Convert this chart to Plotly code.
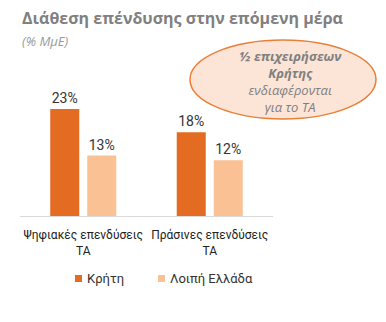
import plotly.graph_objects as go

categories = ["Ψηφιακές επενδύσεις<br>ΤΑ", "Πράσινες επενδύσεις<br>ΤΑ"]
crete = [23, 18]
rest_greece = [13, 12]
series_names = ["Κρήτη", "Λοιπή Ελλάδα"]
colors = ["#E36C22", "#F9C194"]
bubble_text = "<b><i>½ επιχειρήσεων<br>Κρήτης</i></b><br><i>ενδιαφέρονται<br>για το ΤΑ</i>"

W, H = 386, 322
ml, mr, mt, mb = 20, 113, 60, 106
FONT = "Open Sans, Noto Sans, sans-serif"
LFONT = "Roboto, Noto Sans, sans-serif"

fig = go.Figure()
for name, vals, col in zip(series_names, [crete, rest_greece], colors):
    fig.add_trace(go.Bar(
        x=categories, y=vals, name=name, marker_color=col, marker_line_width=0,
        text=[f"{v}%" for v in vals], textposition="outside", cliponaxis=False,
        textfont=dict(size=14, color="#333333", family=LFONT), showlegend=False,
    ))

pw, ph = W - ml - mr, H - mt - mb
def px(x):
    return (x - ml) / pw
def py(y):
    return (H - mb - y) / ph

# legend: small square key followed by the series name
for name, col, kx in zip(series_names, colors, [75, 158]):
    fig.add_shape(type="rect", xref="paper", yref="paper",
                  x0=px(kx), x1=px(kx + 7), y0=py(282), y1=py(275),
                  fillcolor=col, line_width=0)
    fig.add_annotation(xref="paper", yref="paper", x=px(kx + 10), y=py(278.5),
                       xanchor="left", yanchor="middle", text=name, showarrow=False,
                       font=dict(size=13, color="#333333", family=LFONT))

fig.add_shape(type="circle", xref="paper", yref="paper",
              x0=px(190), x1=px(376), y0=py(119), y1=py(40),
              fillcolor="#FCE4D6", line=dict(color="#E8803A", width=1.5), layer="above")

fig.add_annotation(xref="paper", yref="paper", x=px(290), y=py(81),
                   text=bubble_text, showarrow=False, align="center",
                   xanchor="center", yanchor="middle",
                   font=dict(size=13, color="#808080", family=FONT))

fig.add_annotation(xref="paper", yref="paper", x=0, y=py(18), xanchor="left", yanchor="middle",
                   text="<b>Διάθεση επένδυσης στην επόμενη μέρα</b>", showarrow=False,
                   font=dict(size=16, color="#808080", family=FONT))
fig.add_annotation(xref="paper", yref="paper", x=0, y=py(41), xanchor="left", yanchor="middle",
                   text="<i>(% ΜμΕ)</i>", showarrow=False,
                   font=dict(size=13, color="#9a9a9a", family=FONT))

fig.update_layout(
    width=W, height=H, margin=dict(l=ml, r=mr, t=mt, b=mb),
    paper_bgcolor="white", plot_bgcolor="white",
    barmode="group", bargap=0.415, bargroupgap=0.216,
    font=dict(family=FONT, color="#222222"),
    showlegend=False,
    xaxis=dict(showline=True, linecolor="#D9D9D9", linewidth=1, ticks="", tickangle=0,
               ticklabelstandoff=8,
               tickfont=dict(size=12, color="#222222", family=LFONT), showgrid=False),
    yaxis=dict(range=[0, ph / 4.65], visible=False, showgrid=False),
)

fig.write_html("out.html")
